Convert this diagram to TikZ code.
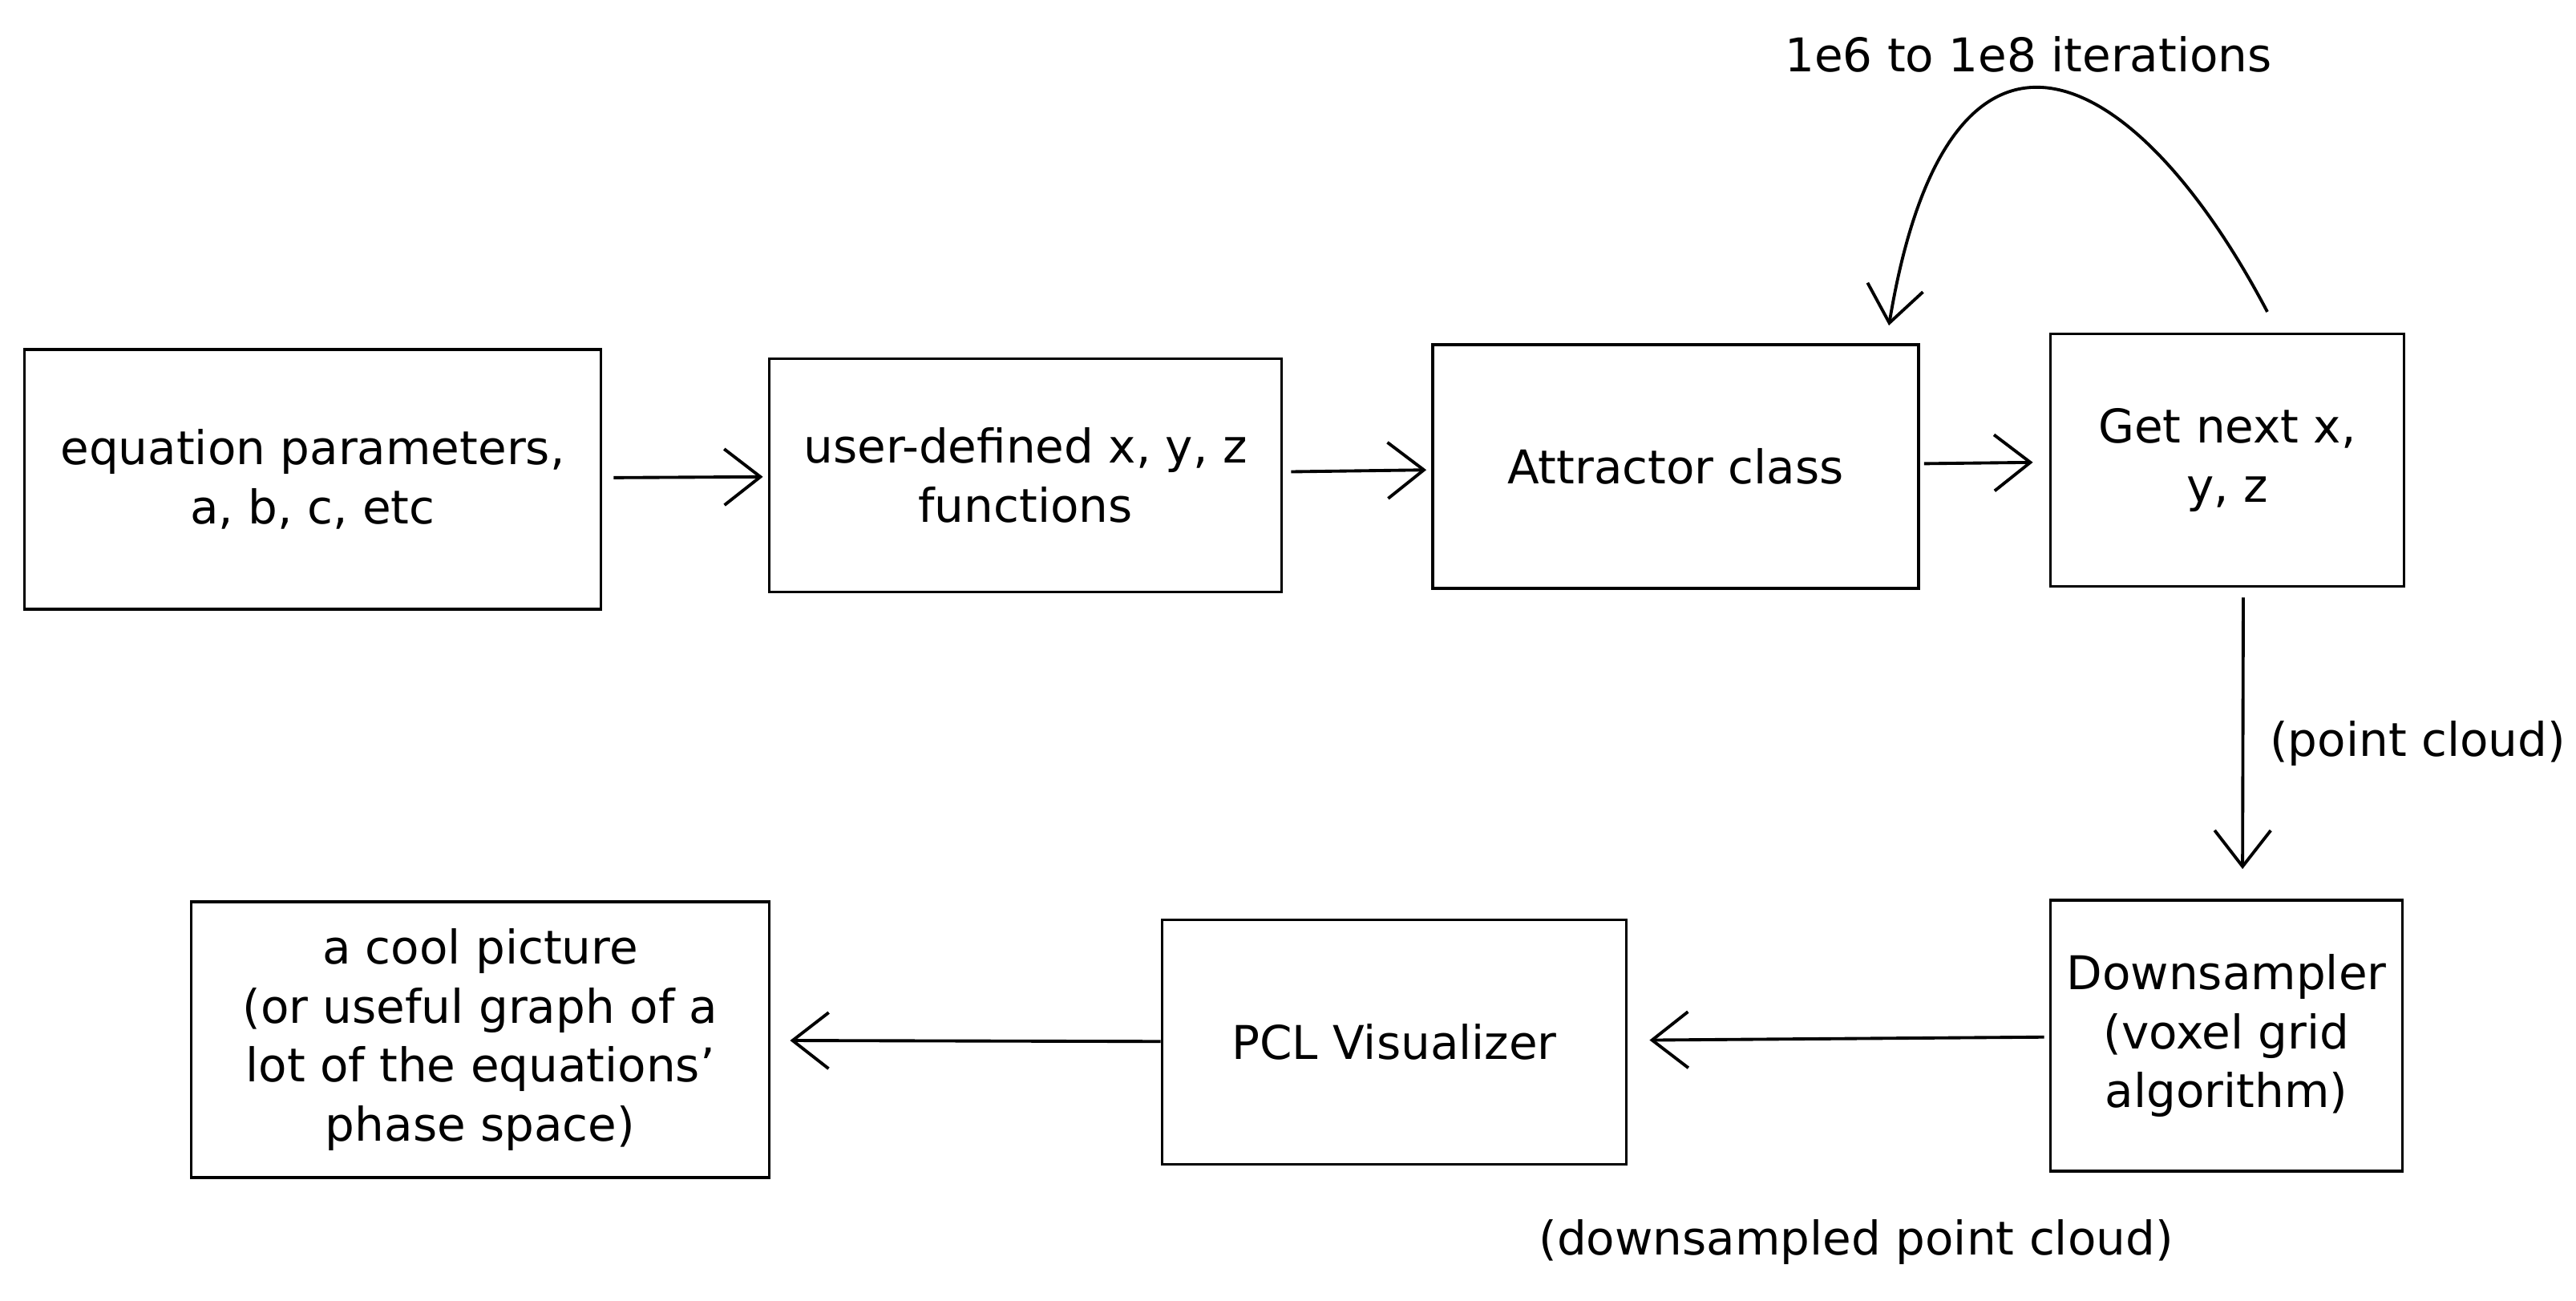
\documentclass[tikz,border=0pt]{standalone}
\usepackage{fontspec}
\setmainfont{DejaVu Sans}
\usetikzlibrary{positioning, arrows.meta}

\begin{document}
\begin{tikzpicture}[>={Straight Barb[length=4.5mm,width=7mm]}, line width=1.1pt,
        every node/.style={font=\fontsize{16.5}{21}\selectfont, align=center},
        blk/.style={draw, rectangle, inner sep=0pt}]
        \useasboundingbox (0,0) rectangle (32.13,-16.23);
        % top row
        \node[blk, minimum width=7.19cm, minimum height=3.24cm] (eqn) at (3.9,-5.98) {equation parameters,\\ a, b, c, etc};
        \node[blk, minimum width=6.39cm, minimum height=2.91cm] (udf) at (12.79,-5.93) {user-defined x, y, z\\ functions};
        \node[blk, minimum width=6.06cm, minimum height=3.04cm] (attr) at (20.9,-5.82) {Attractor class};
        \node[blk, minimum width=4.41cm, minimum height=3.15cm] (getnext) at (27.78,-5.74) {Get next x,\\ y, z};
        % bottom row
        \node[blk, minimum width=4.39cm, minimum height=3.38cm] (downs) at (27.77,-12.92) {Downsampler\\ (voxel grid\\ algorithm)};
        \node[blk, minimum width=5.79cm, minimum height=3.05cm] (pcl) at (17.39,-13.0) {PCL Visualizer};
        \node[blk, minimum width=7.21cm, minimum height=3.44cm] (pic) at (5.99,-12.97) {a cool picture\\ (or useful graph of a\\ lot of the equations'\\ phase space)};
        \node (iter) at (25.3,-0.68) {1e6 to 1e8 iterations};
        \node (dpc) at (23.15,-15.49) {(downsampled point cloud)};
        \coordinate (loopstart) at (28.28,-3.89);
        \coordinate (loopend) at (23.56,-4.06);
        \draw[->, shorten <=0.14cm, shorten >=0.06cm] (eqn) -- (udf);
        \draw[->, shorten <=0.1cm, shorten >=0.06cm] (udf) -- (attr);
        \draw[->, shorten <=0.05cm, shorten >=0.2cm] (attr) -- (getnext);
        \draw[->] (loopstart) .. controls (26.6,-0.7) and (24.3,0.4) .. (loopend);
        \draw[->, shorten <=0.12cm, shorten >=0.37cm] ([xshift=0.2cm]getnext.south) -- ([xshift=0.2cm]downs.north) node[midway, right=0.2cm] {(point cloud)};
        \draw[->, shorten <=0.06cm, shorten >=0.27cm] (downs) -- (pcl);
        \draw[->, shorten >=0.24cm] (pcl) -- (pic);
    \end{tikzpicture}
\end{document}
